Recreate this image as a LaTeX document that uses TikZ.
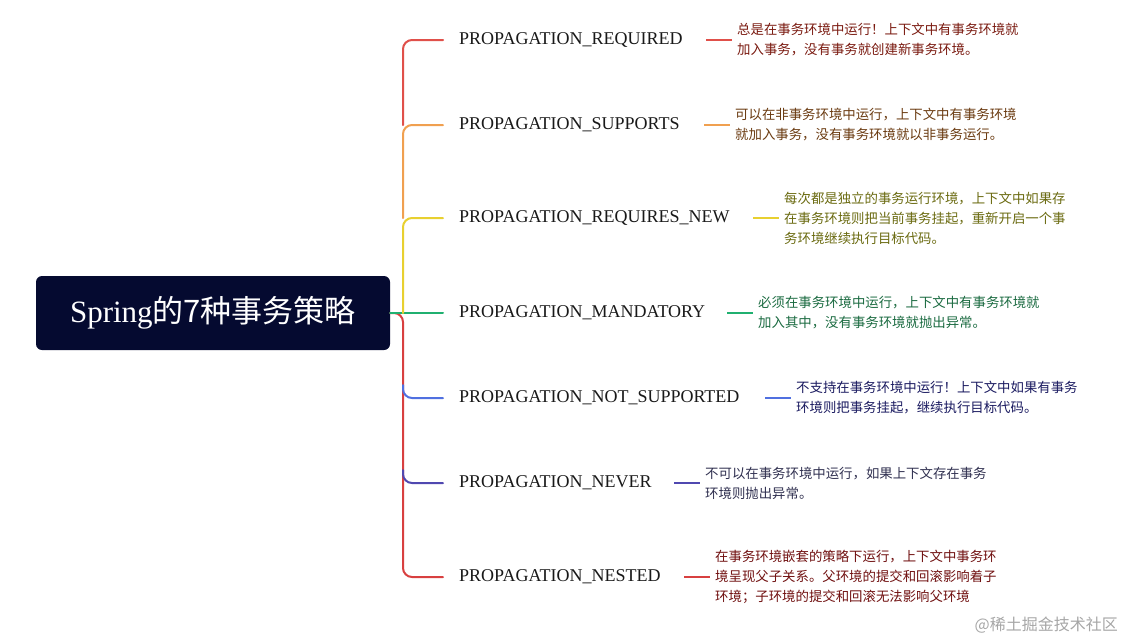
\documentclass[tikz,border=0pt]{standalone}
\usepackage{fontspec}
\setmainfont{Liberation Serif}
\newfontfamily\cjk{Noto Sans CJK SC}
\definecolor{cR}{HTML}{E0504A}
\definecolor{cO}{HTML}{F0A050}
\definecolor{cY}{HTML}{E8D030}
\definecolor{cG}{HTML}{20B070}
\definecolor{cB}{HTML}{5070E0}
\definecolor{cI}{HTML}{5048B0}
\definecolor{cN}{HTML}{D84040}
\definecolor{tR}{HTML}{7A1A10}
\definecolor{tO}{HTML}{6A3A10}
\definecolor{tY}{HTML}{6A6A10}
\definecolor{tG}{HTML}{1A6A40}
\definecolor{tB}{HTML}{1A1A60}
\definecolor{tI}{HTML}{303050}
\definecolor{tN}{HTML}{701010}
\definecolor{rootc}{HTML}{050A30}
\tikzset{
  lab/.style={anchor=west,inner sep=0pt,font=\fontsize{18}{20}\selectfont,text=black!90},
  desc/.style={anchor=west,inner sep=0pt,align=left,font=\cjk\fontsize{13.4}{20}\selectfont},
  br/.style={line width=2pt,rounded corners=9pt,line cap=round},
  sl/.style={line width=2.5pt}
}
\begin{document}
\begin{tikzpicture}[x=1pt,y=-1pt]
\useasboundingbox (0,0) rectangle (1124,641);
\node[fill=rootc,rounded corners=6pt,minimum width=354pt,minimum height=74pt,text=white,font=\fontsize{31}{36}\selectfont] (root) at (213,313) {Spring\cjk 的7种事务策略};
% trunk
\draw[br,cN] (root.east) -- (403,313) -- (403,577) -- (443,577);
\draw[br,cI] (403,470) -- (403,483) -- (443,483);
\draw[br,cB] (403,385) -- (403,398) -- (443,398);
\draw[br,cG] (root.east) -- (443,313);
\draw[br,cY] (403,313) -- (403,218) -- (443,218);
\draw[br,cO] (403,218) -- (403,125) -- (443,125);
\draw[br,cR] (403,125) -- (403,40) -- (443,40);
% labels
\node[lab] (l1) at (459,40) {PROPAGATION\_REQUIRED};
\node[lab] (l2) at (459,125) {PROPAGATION\_SUPPORTS};
\node[lab] (l3) at (459,218) {PROPAGATION\_REQUIRES\_NEW};
\node[lab] (l4) at (459,313) {PROPAGATION\_MANDATORY};
\node[lab] (l5) at (459,398) {PROPAGATION\_NOT\_SUPPORTED};
\node[lab] (l6) at (459,483) {PROPAGATION\_NEVER};
\node[lab] (l7) at (459,577) {PROPAGATION\_NESTED};
% descriptions
\node[desc,text=tR] (d1) at (737,40) {总是在事务环境中运行！上下文中有事务环境就\\加入事务，没有事务就创建新事务环境。};
\node[desc,text=tO] (d2) at (735,125) {可以在非事务环境中运行，上下文中有事务环境\\就加入事务，没有事务环境就以非事务运行。};
\node[desc,text=tY] (d3) at (784,218) {每次都是独立的事务运行环境，上下文中如果存\\在事务环境则把当前事务挂起，重新开启一个事\\务环境继续执行目标代码。};
\node[desc,text=tG] (d4) at (758,313) {必须在事务环境中运行，上下文中有事务环境就\\加入其中，没有事务环境就抛出异常。};
\node[desc,text=tB] (d5) at (796,398) {不支持在事务环境中运行！上下文中如果有事务\\环境则把事务挂起，继续执行目标代码。};
\node[desc,text=tI] (d6) at (705,483) {不可以在事务环境中运行，如果上下文存在事务\\环境则抛出异常。};
\node[desc,text=tN] (d7) at (715,577) {在事务环境嵌套的策略下运行，上下文中事务环\\境呈现父子关系。父环境的提交和回滚影响着子\\环境；子环境的提交和回滚无法影响父环境};
% short connectors
\draw[sl,cR] ([xshift=-31pt]d1.west) -- ([xshift=-5pt]d1.west);
\draw[sl,cO] ([xshift=-31pt]d2.west) -- ([xshift=-5pt]d2.west);
\draw[sl,cY] ([xshift=-31pt]d3.west) -- ([xshift=-5pt]d3.west);
\draw[sl,cG] ([xshift=-31pt]d4.west) -- ([xshift=-5pt]d4.west);
\draw[sl,cB] ([xshift=-31pt]d5.west) -- ([xshift=-5pt]d5.west);
\draw[sl,cI] ([xshift=-31pt]d6.west) -- ([xshift=-5pt]d6.west);
\draw[sl,cN] ([xshift=-31pt]d7.west) -- ([xshift=-5pt]d7.west);
\node[anchor=east,inner sep=0pt,text=black!35,font=\cjk\fontsize{16}{18}\selectfont] (wm) at (1118,625) {@稀土掘金技术社区};
\end{tikzpicture}
\end{document}
